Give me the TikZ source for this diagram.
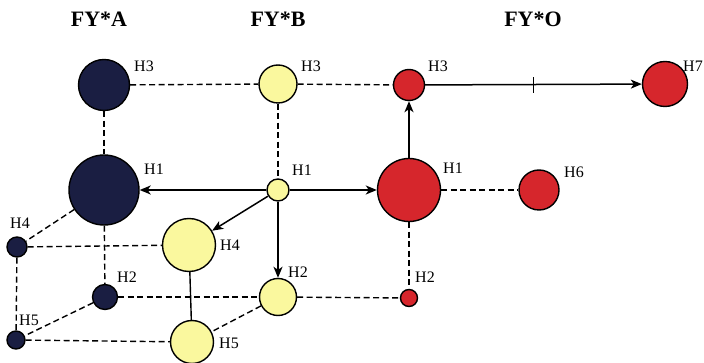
\documentclass[tikz,border=0pt]{standalone}
\usepackage{fontspec}
\setmainfont{Liberation Serif}
\usetikzlibrary{arrows.meta}
\definecolor{navy}{RGB}{26,30,66}
\definecolor{pale}{RGB}{250,248,158}
\definecolor{brick}{RGB}{214,38,44}
\begin{document}
\begin{tikzpicture}[x=1pt,y=-1pt,
	hap/.style={circle,draw=black,line width=1.4pt,inner sep=0pt,minimum size=#1},
	grpA/.style={hap=#1,fill=navy},
	grpB/.style={hap=#1,fill=pale},
	grpO/.style={hap=#1,fill=brick},
	lbl/.style={font=\fontsize{16}{16}\selectfont,inner sep=0pt},
	ttl/.style={font=\fontsize{22}{22}\selectfont\bfseries,inner sep=0pt},
	link/.style={line width=1.4pt,dash pattern=on 6pt off 3.5pt},
	step arrow/.style={line width=1.5pt,-{Stealth[length=11pt,width=9pt,inset=3pt]}}]
		\useasboundingbox (0,0) rectangle (704,363);
		\node[ttl] (tA) at (99,19) {FY*A};
		\node[ttl] (tB) at (278,19) {FY*B};
		\node[ttl] (tO) at (533,19) {FY*O};
		\node[grpA=51pt] (a3) at (104,85) {};
		\node[grpA=70pt] (a1) at (104,190) {};
		\node[grpA=20pt] (a4) at (17,247) {};
		\node[grpA=25pt] (a2) at (105,297) {};
		\node[grpA=18pt] (a5) at (16,340) {};
		\node[grpB=38pt] (b3) at (278,84) {};
		\node[grpB=22pt] (b1) at (278,190) {};
		\node[grpB=53pt] (b4) at (189,245) {};
		\node[grpB=37pt] (b2) at (278,297) {};
		\node[grpB=43pt] (b5) at (192,342) {};
		\node[grpO=31pt] (o3) at (409,85) {};
		\node[grpO=45pt] (o7) at (665,84) {};
		\node[grpO=63pt] (o1) at (409,190) {};
		\node[grpO=40pt] (o6) at (539,190) {};
		\node[grpO=17pt] (o2) at (409,298) {};
		\node[lbl] (la3) at (144,66) {H3};
		\node[lbl] (la1) at (154,169) {H1};
		\node[lbl] (la4) at (20,223) {H4};
		\node[lbl] (la2) at (127,277) {H2};
		\node[lbl] (la5) at (29,320) {H5};
		\node[lbl] (lb3) at (311,66) {H3};
		\node[lbl] (lb1) at (302,170) {H1};
		\node[lbl] (lb4) at (230,245) {H4};
		\node[lbl] (lb2) at (298,272) {H2};
		\node[lbl] (lb5) at (229,343) {H5};
		\node[lbl] (lo3) at (438,66) {H3};
		\node[lbl] (lo7) at (693,66) {H7};
		\node[lbl] (lo1) at (453,168) {H1};
		\node[lbl] (lo6) at (574,172) {H6};
		\node[lbl] (lo2) at (425,277) {H2};
		\draw[link] (a3) -- (b3);
		\draw[link] (b3) -- (o3);
		\draw[link] (a3) -- (a1);
		\draw[link] (b3) -- (b1);
		\draw[link] (a1) -- (a4);
		\draw[link] (a1) -- (a2);
		\draw[link] (a4) -- (b4);
		\draw[link] (a4) -- (a5);
		\draw[link] (a2) -- (a5);
		\draw[link] (a2) -- (b2);
		\draw[link] (a5) -- (b5);
		\draw[link] (b2) -- (b5);
		\draw[link] (b2) -- (o2);
		\draw[link] (o1) -- (o2);
		\draw[link] (o1) -- (o6);
		\draw[line width=1.4pt] (b4) -- (b5);
		\draw[step arrow] (b1) -- (a1);
		\draw[step arrow] (b1) -- (o1);
		\draw[step arrow] (b1) -- (b4);
		\draw[step arrow] (b1) -- (b2);
		\draw[step arrow] (o1) -- (o3);
		\draw[step arrow] (o3) -- node[midway,fill=black,minimum width=1.5pt,minimum height=16pt,inner sep=0pt] (tick) {} (o7);
	\end{tikzpicture}
\end{document}
